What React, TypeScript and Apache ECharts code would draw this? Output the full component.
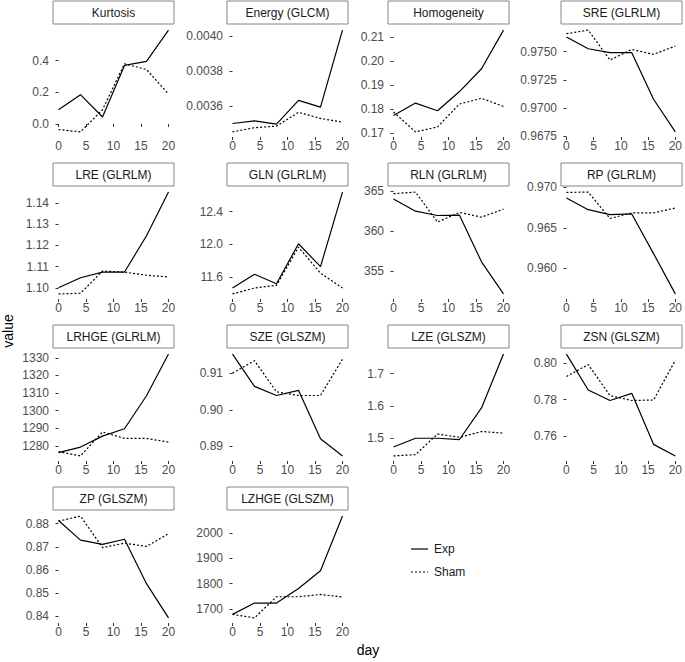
import React, { useEffect, useRef } from "react";
import * as echarts from "echarts";

const days = [0, 4, 8, 12, 16, 20];
const xTicks = [0, 5, 10, 15, 20];

const kurtosisExp = [0.09, 0.185, 0.044, 0.37, 0.395, 0.593];
const kurtosisSham = [-0.035, -0.05, 0.09, 0.38, 0.344, 0.189];
const kurtosisTicks = ["0.0", "0.2", "0.4"];

const energyExp = [0.003502, 0.003517, 0.003498, 0.003634, 0.003596, 0.004036];
const energySham = [0.003454, 0.003478, 0.003487, 0.003566, 0.003531, 0.00351];
const energyTicks = ["0.0036", "0.0038", "0.0040"];

const homogeneityExp = [0.1773, 0.1825, 0.1793, 0.1873, 0.1968, 0.2129];
const homogeneitySham = [0.1788, 0.1705, 0.1726, 0.1821, 0.1845, 0.1811];
const homogeneityTicks = ["0.17", "0.18", "0.19", "0.20", "0.21"];

const sreExp = [0.9763, 0.97526, 0.97491, 0.97491, 0.97079, 0.9679];
const sreSham = [0.97659, 0.97691, 0.97426, 0.9752, 0.97476, 0.9755];
const sreTicks = ["0.9675", "0.9700", "0.9725", "0.9750"];

const lreExp = [1.1, 1.1047, 1.1074, 1.1074, 1.1245, 1.1451];
const lreSham = [1.0971, 1.0974, 1.1079, 1.1074, 1.1059, 1.1051];
const lreTicks = ["1.10", "1.11", "1.12", "1.13", "1.14"];

const glnExp = [11.467, 11.636, 11.52, 12.008, 11.728, 12.64];
const glnSham = [11.395, 11.467, 11.5, 11.968, 11.648, 11.467];
const glnTicks = ["11.6", "12.0", "12.4"];

const rlnExp = [364.05, 362.52, 361.98, 362.02, 356.2, 352.2];
const rlnSham = [364.7, 364.9, 361.16, 362.36, 361.78, 362.77];
const rlnTicks = ["355", "360", "365"];

const rpExp = [0.96869, 0.96725, 0.96664, 0.96672, 0.9618, 0.9568];
const rpSham = [0.96939, 0.96943, 0.96615, 0.96685, 0.96685, 0.96746];
const rpTicks = ["0.960", "0.965", "0.970"];

const lrhgeExp = [1276.3, 1279.4, 1285.6, 1289.8, 1308.5, 1332.1];
const lrhgeSham = [1276.8, 1274.4, 1288.0, 1284.3, 1284.3, 1282.2];
const lrhgeTicks = ["1280", "1290", "1300", "1310", "1320", "1330"];

const szeExp = [0.9152, 0.9064, 0.9039, 0.9053, 0.8921, 0.8874];
const szeSham = [0.91, 0.9134, 0.9049, 0.9039, 0.9039, 0.9138];
const szeTicks = ["0.89", "0.90", "0.91"];

const lzeExp = [1.4716, 1.499, 1.499, 1.495, 1.5934, 1.761];
const lzeSham = [1.444, 1.448, 1.512, 1.502, 1.52, 1.515];
const lzeTicks = ["1.5", "1.6", "1.7"];

const zsnExp = [0.8048, 0.7852, 0.7795, 0.7834, 0.7556, 0.7493];
const zsnSham = [0.7926, 0.7991, 0.7822, 0.7795, 0.7798, 0.8014];
const zsnTicks = ["0.76", "0.78", "0.80"];

const zpExp = [0.8814, 0.8729, 0.8711, 0.8733, 0.8541, 0.8393];
const zpSham = [0.8811, 0.8833, 0.8697, 0.8716, 0.8702, 0.8757];
const zpTicks = ["0.84", "0.85", "0.86", "0.87", "0.88"];

const lzhgeExp = [1678, 1723, 1723, 1781, 1851, 2068];
const lzhgeSham = [1678, 1664, 1748, 1748, 1757, 1747];
const lzhgeTicks = ["1700", "1800", "1900", "2000"];

const panels = [
  { title: "Kurtosis", exp: kurtosisExp, sham: kurtosisSham, ticks: kurtosisTicks },
  { title: "Energy (GLCM)", exp: energyExp, sham: energySham, ticks: energyTicks },
  { title: "Homogeneity", exp: homogeneityExp, sham: homogeneitySham, ticks: homogeneityTicks },
  { title: "SRE (GLRLM)", exp: sreExp, sham: sreSham, ticks: sreTicks },
  { title: "LRE (GLRLM)", exp: lreExp, sham: lreSham, ticks: lreTicks },
  { title: "GLN (GLRLM)", exp: glnExp, sham: glnSham, ticks: glnTicks },
  { title: "RLN (GLRLM)", exp: rlnExp, sham: rlnSham, ticks: rlnTicks },
  { title: "RP (GLRLM)", exp: rpExp, sham: rpSham, ticks: rpTicks },
  { title: "LRHGE (GLRLM)", exp: lrhgeExp, sham: lrhgeSham, ticks: lrhgeTicks },
  { title: "SZE (GLSZM)", exp: szeExp, sham: szeSham, ticks: szeTicks },
  { title: "LZE (GLSZM)", exp: lzeExp, sham: lzeSham, ticks: lzeTicks },
  { title: "ZSN (GLSZM)", exp: zsnExp, sham: zsnSham, ticks: zsnTicks },
  { title: "ZP (GLSZM)", exp: zpExp, sham: zpSham, ticks: zpTicks },
  { title: "LZHGE (GLSZM)", exp: lzhgeExp, sham: lzhgeSham, ticks: lzhgeTicks },
];

const FONT = "'Liberation Sans', Arial, Helvetica, sans-serif";
const colLefts = [53, 227, 388, 561];
const PW = 121;
const PH = 112;
const rowTop = (r: number) => 25 + 162 * r;
const STRIP_H = 23;

function expand(vals: number[]) {
  const lo = Math.min(...vals);
  const hi = Math.max(...vals);
  const pad = (hi - lo) * 0.05;
  return [lo - pad, hi + pad];
}

export default function App() {
  const ref = useRef<HTMLDivElement>(null);
  useEffect(() => {
    if (!ref.current) return;
    const chart = echarts.init(ref.current, undefined, { renderer: "svg" });
    const [xMin, xMax] = expand(days);

    const grids: any[] = [];
    const xAxes: any[] = [];
    const yAxes: any[] = [];
    const series: any[] = [];
    const graphics: any[] = [];

    panels.forEach((p, i) => {
      const left = colLefts[i % 4];
      const top = rowTop(Math.floor(i / 4));
      grids.push({ left, top, width: PW, height: PH });
      xAxes.push({
        type: "value",
        gridIndex: i,
        min: xMin,
        max: xMax,
        axisLine: { show: false },
        splitLine: { show: false },
        axisTick: { show: true, length: 3, lineStyle: { color: "#333", width: 1 }, customValues: xTicks },
        axisLabel: { customValues: xTicks, margin: 3, fontSize: 12, color: "#4d4d4d", fontFamily: FONT },
      });
      const [yMin, yMax] = expand([...p.exp, ...p.sham]);
      const tv = p.ticks.map(Number);
      const labels = p.ticks;
      yAxes.push({
        type: "value",
        gridIndex: i,
        min: yMin,
        max: yMax,
        axisLine: { show: false },
        splitLine: { show: false },
        axisTick: { show: true, length: 3, lineStyle: { color: "#333", width: 1 }, customValues: tv },
        axisLabel: {
          customValues: tv,
          margin: 4,
          fontSize: 12,
          color: "#4d4d4d",
          fontFamily: FONT,
          formatter: (v: number) => {
            let best = labels[0];
            let bd = Infinity;
            tv.forEach((t, k) => {
              const d = Math.abs(t - v);
              if (d < bd) { bd = d; best = labels[k]; }
            });
            return best;
          },
        },
      });
      series.push({
        type: "line",
        name: "Exp",
        xAxisIndex: i,
        yAxisIndex: i,
        data: days.map((d, j) => [d, p.exp[j]]),
        symbol: "none",
        silent: true,
        lineStyle: { color: "#000", width: 1.2, type: "solid" },
      });
      series.push({
        type: "line",
        name: "Sham",
        xAxisIndex: i,
        yAxisIndex: i,
        data: days.map((d, j) => [d, p.sham[j]]),
        symbol: "none",
        silent: true,
        lineStyle: { color: "#000", width: 1.2, type: [2, 2] },
      });
      graphics.push({
        type: "rect",
        shape: { x: left, y: top - STRIP_H - 1, width: PW, height: STRIP_H },
        style: { fill: "#fff", stroke: "#858585", lineWidth: 1 },
      });
      graphics.push({
        type: "text",
        x: left + PW / 2,
        y: top - STRIP_H / 2 - 1,
        style: {
          text: p.title,
          textAlign: "center",
          textVerticalAlign: "middle",
          fontSize: 12,
          fill: "#1a1a1a",
          fontFamily: FONT,
        },
      });
    });

    graphics.push({
      type: "text",
      x: 8,
      y: 331,
      rotation: Math.PI / 2,
      style: { text: "value", textAlign: "center", textVerticalAlign: "middle", fontSize: 14, fill: "#000", fontFamily: FONT },
    });
    graphics.push({
      type: "text",
      x: 368,
      y: 650,
      style: { text: "day", textAlign: "center", textVerticalAlign: "middle", fontSize: 14, fill: "#000", fontFamily: FONT },
    });
    const legendItems = [
      { name: "Exp", dash: null as any, y: 549 },
      { name: "Sham", dash: [2, 2], y: 572 },
    ];
    legendItems.forEach((it) => {
      graphics.push({
        type: "line",
        shape: { x1: 411, y1: it.y, x2: 428, y2: it.y },
        style: { stroke: "#000", lineWidth: 1.2, lineDash: it.dash },
      });
      graphics.push({
        type: "text",
        x: 434,
        y: it.y,
        style: { text: it.name, textAlign: "left", textVerticalAlign: "middle", fontSize: 12, fill: "#1a1a1a", fontFamily: FONT },
      });
    });

    chart.setOption({
      animation: false,
      backgroundColor: "#fff",
      grid: grids,
      xAxis: xAxes,
      yAxis: yAxes,
      series,
      graphic: graphics,
    });
    return () => chart.dispose();
  }, []);
  return (
    <div
      ref={ref}
      style={{ position: "fixed", left: 0, top: 0, width: 685, height: 662, background: "#fff" }}
    />
  );
}
